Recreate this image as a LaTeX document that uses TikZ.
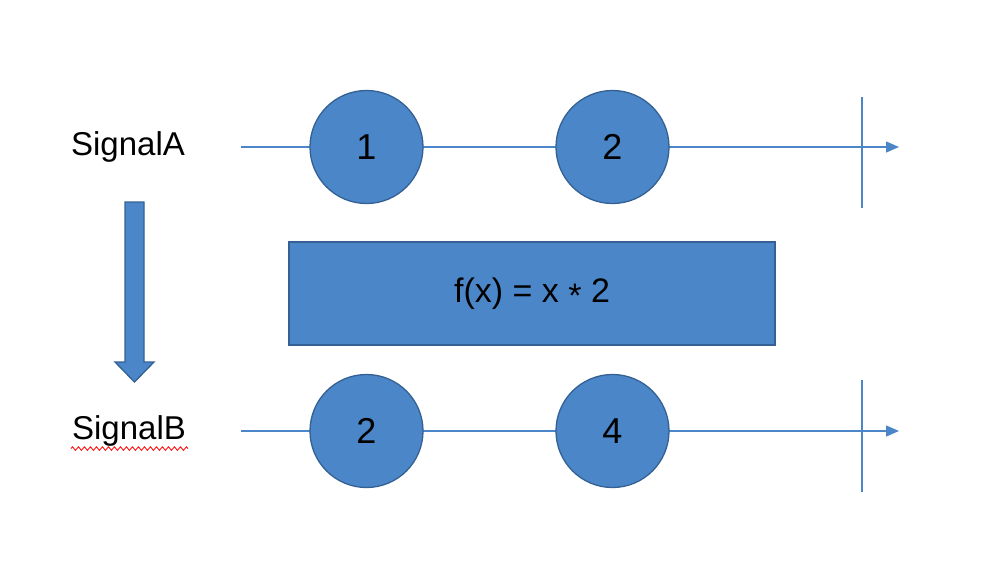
\documentclass[tikz,border=0pt]{standalone}
\usepackage{fontspec}
\setmainfont{Liberation Sans}
\usetikzlibrary{arrows.meta, positioning, decorations.pathmorphing}
\definecolor{boxblue}{RGB}{74,134,200}
\definecolor{edgeblue}{RGB}{52,96,148}

\begin{document}
\begin{tikzpicture}[
            x=1pt, y=-1pt,
            timeline/.style={draw=boxblue, line width=1.5pt, -{Triangle[length=13pt, width=11pt]}},
            tick/.style={draw=boxblue, line width=1.5pt},
            marble/.style={circle, draw=edgeblue, line width=1.3pt, fill=boxblue,
                minimum size=113pt, inner sep=0pt, font=\fontsize{36}{40}\selectfont},
            signal/.style={font=\fontsize{33}{38}\selectfont, inner sep=0pt}
        ]
        \useasboundingbox (0, 0) rectangle (1004, 568);
        \def\rowA{147}
        \def\rowB{431}

        % signal A
        \node[signal] (labelA) at (128, \rowA) {SignalA};
        \coordinate (startA) at (241, \rowA);
        \coordinate (endA) at (899, \rowA);
        \draw[timeline] (startA) -- (endA);
        \node[marble] (a1) at (366.5, \rowA) {1};
        \node[marble] (a2) at (612.5, \rowA) {2};
        \coordinate (tickAtop) at (862, 97);
        \coordinate (tickAbot) at (862, 208);
        \draw[tick] (tickAtop) -- (tickAbot);

        % map box
        \node[draw=edgeblue, line width=1.3pt, fill=boxblue, minimum width=486pt,
            minimum height=103pt, inner sep=0pt, font=\fontsize{34}{38}\selectfont]
            (mapbox) at (532, 293.5) {f(x) = x \raisebox{-0.3ex}{*} 2};

        % block arrow
        \draw[draw=edgeblue, line width=1.3pt, fill=boxblue, line join=miter]
            (125, 202) -- (144, 202) -- (144, 362) -- (154, 362) -- (134.5, 382)
            -- (115, 362) -- (125, 362) -- cycle;

        % signal B
        \node[signal] (labelB) at (129, \rowB) {SignalB};
        \draw[red, line width=0.8pt, decorate, decoration={zigzag, amplitude=1.8pt, segment length=6pt}]
            ([xshift=-1pt, yshift=-2pt]labelB.south west) -- ([xshift=2pt, yshift=-2pt]labelB.south east);
        \coordinate (startB) at (241, \rowB);
        \coordinate (endB) at (899, \rowB);
        \draw[timeline] (startB) -- (endB);
        \node[marble] (b1) at (366.5, \rowB) {2};
        \node[marble] (b2) at (612.5, \rowB) {4};
        \coordinate (tickBtop) at (862, 380);
        \coordinate (tickBbot) at (862, 492);
        \draw[tick] (tickBtop) -- (tickBbot);
    \end{tikzpicture}
\end{document}
